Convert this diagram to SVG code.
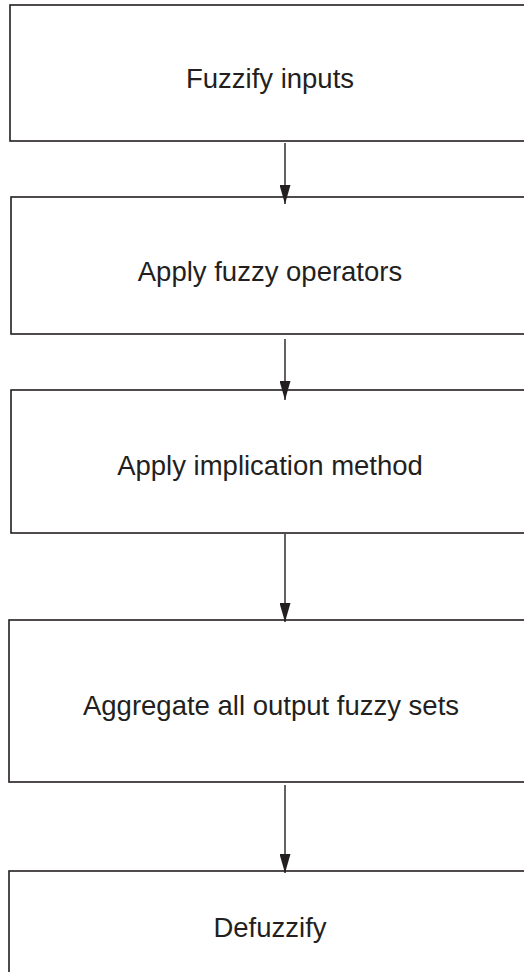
<svg xmlns="http://www.w3.org/2000/svg" width="524" height="972" viewBox="0 0 524 972">
  <style>
    .box { fill: #ffffff; stroke: #231f20; stroke-width: 1.6; }
    .lbl { font-family: "Liberation Sans", Arial, Helvetica, sans-serif; font-size: 27.5px; fill: #231f20; text-anchor: middle; }
    .conn { stroke: #231f20; stroke-width: 1.4; fill: none; }
  </style>
  <defs>
    <marker id="arr" markerUnits="userSpaceOnUse" markerWidth="19" markerHeight="11" viewBox="0 0 19 11" refX="19" refY="5.5" orient="auto">
      <path d="M0,0 L19,5.5 L0,11 Z" fill="#231f20"/>
    </marker>
  </defs>
  <rect width="524" height="972" fill="#ffffff"/>

  <g id="node-fuzzify">
    <rect class="box" x="10" y="5" width="530" height="136"/>
    <text class="lbl" x="270" y="88">Fuzzify inputs</text>
  </g>
  <g id="node-operators">
    <rect class="box" x="11" y="197" width="530" height="137"/>
    <text class="lbl" x="270" y="281">Apply fuzzy operators</text>
  </g>
  <g id="node-implication">
    <rect class="box" x="11" y="390" width="530" height="143"/>
    <text class="lbl" x="270" y="475">Apply implication method</text>
  </g>
  <g id="node-aggregate">
    <rect class="box" x="9" y="620" width="530" height="162"/>
    <text class="lbl" x="271" y="715">Aggregate all output fuzzy sets</text>
  </g>
  <g id="node-defuzzify">
    <rect class="box" x="9" y="871" width="530" height="120"/>
    <text class="lbl" x="270" y="937">Defuzzify</text>
  </g>

  <g id="connectors">
    <line class="conn" x1="285" y1="143" x2="285" y2="204" marker-end="url(#arr)"/>
    <line class="conn" x1="285" y1="339" x2="285" y2="400" marker-end="url(#arr)"/>
    <line class="conn" x1="285" y1="534" x2="285" y2="622" marker-end="url(#arr)"/>
    <line class="conn" x1="285" y1="785" x2="285" y2="873" marker-end="url(#arr)"/>
  </g>
</svg>
